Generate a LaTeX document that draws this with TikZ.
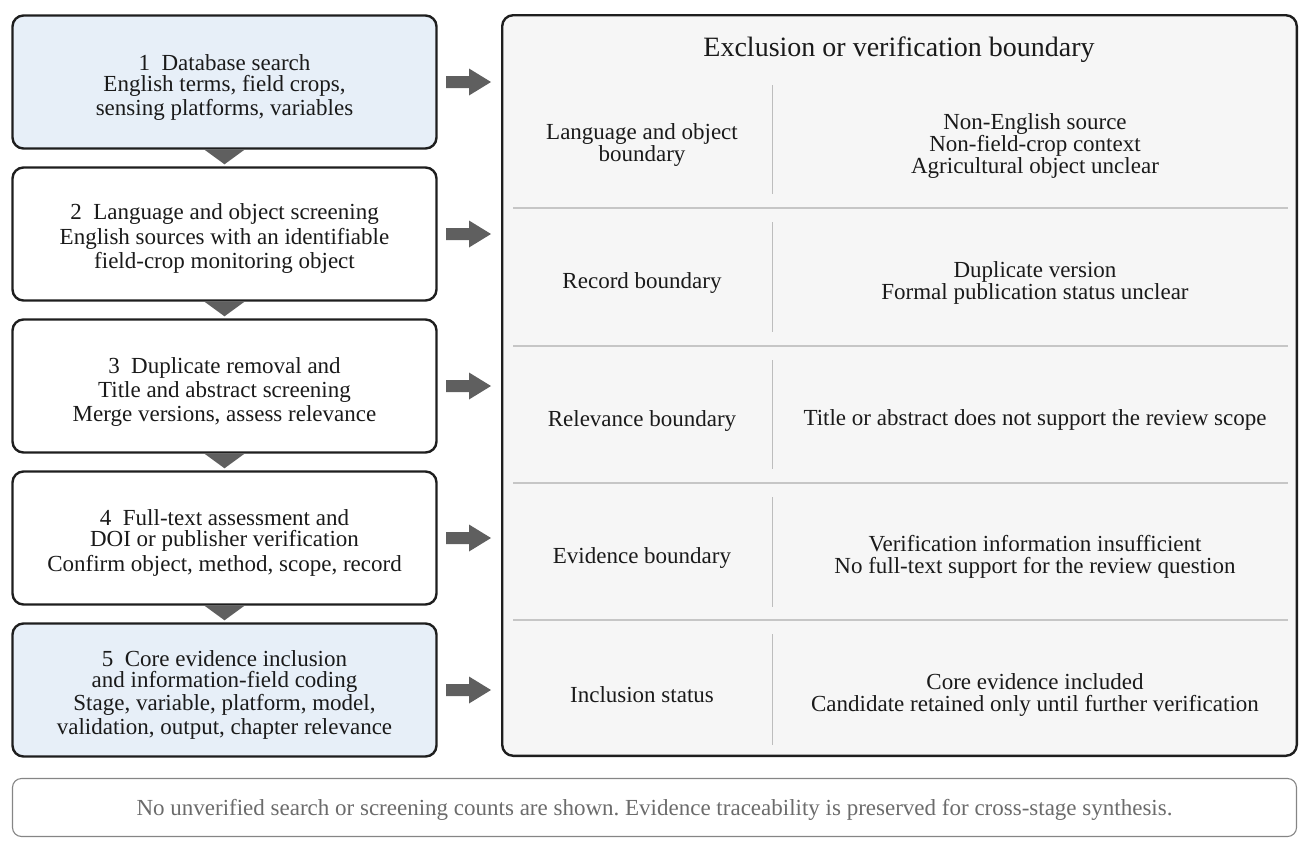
\documentclass[tikz,border=0pt]{standalone}
\usepackage{fontspec}
\setmainfont{Liberation Serif}
\usetikzlibrary{calc}
\frenchspacing
\definecolor{bluefill}{HTML}{E7EFF8}
\definecolor{panelfill}{HTML}{F6F6F6}
\definecolor{edge}{HTML}{1E1E1E}
\definecolor{arrowgray}{HTML}{5F5F5F}
\definecolor{sepgray}{HTML}{C6C6C6}
\definecolor{divgray}{HTML}{BDBDBD}
\definecolor{notegray}{HTML}{6B6B6B}
\definecolor{noteedge}{HTML}{858585}
\definecolor{ink}{HTML}{1A1A1A}
\begin{document}
\begin{tikzpicture}[x=1pt,y=-1pt,
  stagebox/.style={draw=edge, line width=2.4pt, rounded corners=11pt,
    minimum width=424pt, minimum height=133pt, inner sep=0pt},
  bluebox/.style={stagebox, fill=bluefill},
  whitebox/.style={stagebox, fill=white},
  stagetext/.style={align=center, inner sep=0pt, font=\fontsize{23}{24}\selectfont, text=ink},
  celltext/.style={align=center, inner sep=0pt, font=\fontsize{23}{22}\selectfont, text=ink},
  sepline/.style={draw=sepgray, line width=1.4pt},
  divline/.style={draw=divgray, line width=0.9pt},
  flowtri/.style={fill=arrowgray},
]
\useasboundingbox (0,0) rectangle (1307,847);

% stage boxes
\node[bluebox] (s1) at (224.5,82) {};
\node[whitebox] (s2) at (224.5,234) {};
\node[whitebox] (s3) at (224.5,386) {};
\node[whitebox] (s4) at (224.5,538) {};
\node[bluebox] (s5) at (224.5,690) {};

\node[stagetext] (t1) at ($(s1)+(0,5)$) {1~~Database search\\[-3pt]English terms, field crops,\\sensing platforms, variables};
\node[stagetext] (t2) at ($(s2)+(0,4)$) {2~~Language and object screening\\[1pt]English sources with an identifiable\\field-crop monitoring object};
\node[stagetext] (t3) at ($(s3)+(0,6)$) {3~~Duplicate removal and\\Title and abstract screening\\Merge versions, assess relevance};
\node[stagetext] (t4) at ($(s4)+(0,5)$) {4~~Full-text assessment and\\[-3pt]DOI or publisher verification\\[1pt]Confirm object, method, scope, record};
\node[stagetext] (t5) at ($(s5)+(0,5)$) {5~~Core evidence inclusion\\[-3pt]and information-field coding\\[-1pt]Stage, variable, platform, model,\\validation, output, chapter relevance};

% down triangles
\foreach \i/\j in {1/2,2/3,3/4,4/5}{
  \fill[flowtri] ($(s\i.south)+(-20,0)$) -- ($(s\i.south)+(20,0)$) -- ($(s\j.north)+(0,-2)$) -- cycle;
}

% right block arrows
\foreach \i in {1,...,5}{
  \fill[arrowgray] ($(s\i.east)+(8.3,-6)$) -- ++(23,0) -- ++(0,-7.5) -- ++(22,13.5)
     -- ++(-22,13.5) -- ++(0,-7.5) -- ++(-23,0) -- cycle;
}

% panel
\node[draw=edge, line width=2.4pt, fill=panelfill, rounded corners=11pt,
  minimum width=794.6pt, minimum height=740.6pt, inner sep=0pt] (panel) at (899.5,385.5) {};
\node[inner sep=0pt, font=\fontsize{28}{30}\selectfont, text=ink] (ptitle) at (899,50) {Exclusion or verification boundary};

% separators
\foreach \y in {208,346,483,620}{
  \draw[sepline] (513,\y) -- (1288,\y);
}
% dividers
\foreach \t/\b in {85/194,222/332,360/469,497/607,634/745}{
  \draw[divline] (772,\t) -- (772,\b);
}

% row texts
\node[celltext] (l1) at (642,145) {Language and object\\boundary};
\node[celltext] (r1) at (1035,145.5) {Non-English source\\Non-field-crop context\\Agricultural object unclear};
\node[celltext] (l2) at (642,283) {Record boundary};
\node[celltext] (r2) at (1035,282.5) {Duplicate version\\Formal publication status unclear};
\node[celltext] (l3) at (642,421) {Relevance boundary};
\node[celltext] (r3) at (1035,420) {Title or abstract does not support the review scope};
\node[celltext] (l4) at (642,558) {Evidence boundary};
\node[celltext] (r4) at (1035,557) {Verification information insufficient\\No full-text support for the review question};
\node[celltext] (l5) at (642,695) {Inclusion status};
\node[celltext] (r5) at (1035,695) {Core evidence included\\Candidate retained only until further verification};

% footnote
\node[draw=noteedge, line width=1.1pt, rounded corners=9pt, minimum width=1284pt,
  minimum height=58pt, inner sep=0pt] (note) at (654.5,807.5) {};
\node[inner sep=0pt, text=notegray, font=\fontsize{23}{24}\selectfont] (notetext) at (654.5,809.5)
  {No unverified search or screening counts are shown. Evidence traceability is preserved for cross-stage synthesis.};
\end{tikzpicture}
\end{document}
